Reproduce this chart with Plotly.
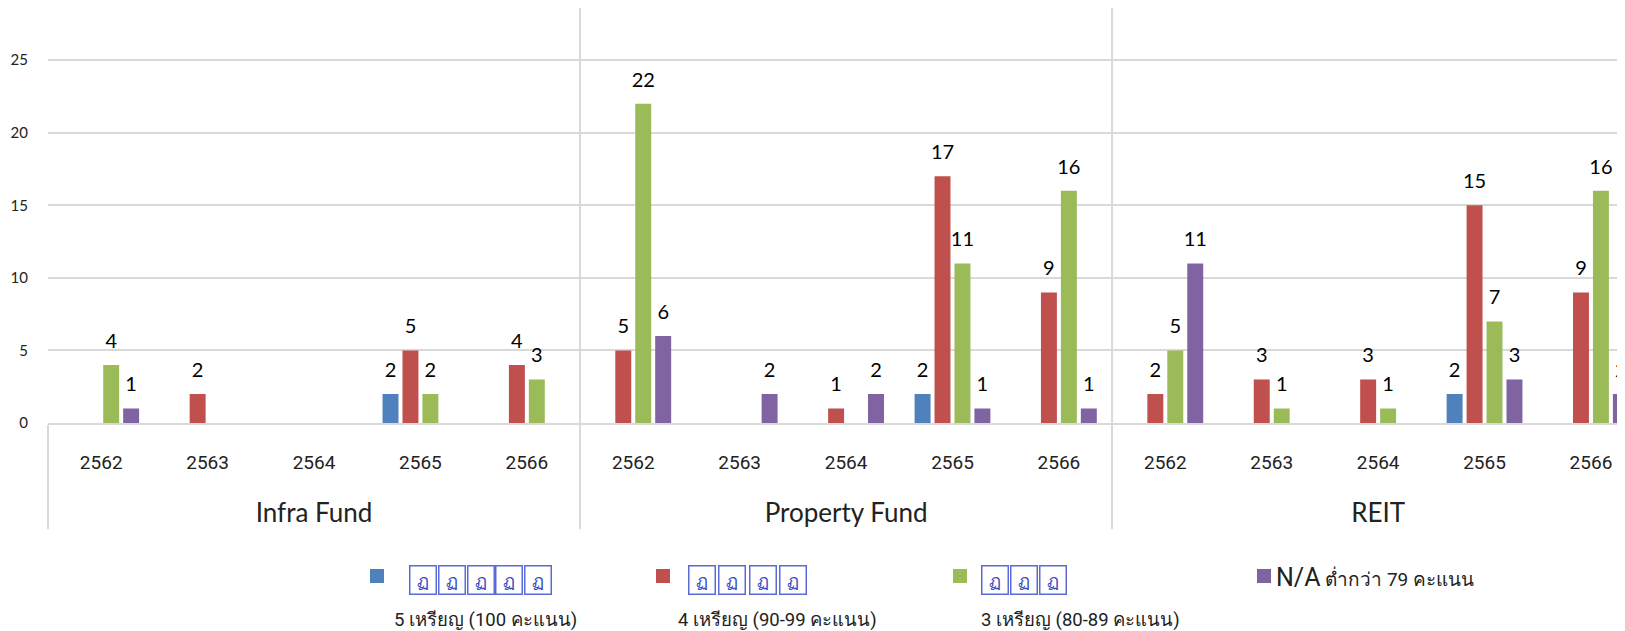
import plotly.graph_objects as go

groups = ["Infra Fund", "Property Fund", "REIT"]
years = ["2562", "2563", "2564", "2565", "2566"]

series_names = [
    "5 เหรียญ (100 คะแนน)",
    "4 เหรียญ (90-99 คะแนน)",
    "3 เหรียญ (80-89 คะแนน)",
    "N/A ต่ำกว่า 79 คะแนน",
]
medal_counts = [5, 4, 3]

five_medal = [None, None, None, 2, None,  None, None, None, 2, None,  None, None, None, 2, None]
four_medal = [None, 2, None, 5, 4,  5, None, 1, 17, 9,  2, 3, 3, 15, 9]
three_medal = [4, None, None, 2, 3,  22, None, None, 11, 16,  5, 1, 1, 7, 16]
na_below79 = [1, None, None, None, None,  6, 2, 2, 1, 1,  11, None, None, 3, 2]

colors = ["#4f81bd", "#c0504d", "#9bbb59", "#8064a2"]

grid = "#d9d9d9"
label_font = "Lato, Open Sans, sans-serif"
thai_font = "Roboto, Noto Sans, sans-serif"

# page offset of the figure (browser body margin) and plot area in page pixels
OFF = 8
L, T, B = 48, 8, 423
W = 1625 - L
def px_x(px):
    return (px - L) / W
def px_y(py):
    return (B - py) / (B - T)

group_lvl = []
year_lvl = []
for g in groups:
    for y in years:
        group_lvl.append(f"<br><br><span style='font-size:26px;font-family:Lato'>{g}</span>")
        year_lvl.append(y)

all_series = [five_medal, four_medal, three_medal, na_below79]

fig = go.Figure()
for vals, name, col in zip(all_series, series_names, colors):
    fig.add_trace(go.Bar(
        x=[group_lvl, year_lvl], y=vals, name=name,
        marker=dict(color=col, line=dict(width=0)),
        offsetgroup=name, showlegend=False,
    ))
# value labels, grouped like the bars, sitting a little above each bar
for vals, name in zip(all_series, series_names):
    fig.add_trace(go.Scatter(
        x=[group_lvl, year_lvl], y=vals, name=name,
        mode="markers+text", offsetgroup=name,
        marker=dict(size=18, opacity=0),
        text=[("" if v is None else str(v)) for v in vals],
        textposition="top center", cliponaxis=False,
        textfont=dict(size=20, color="black", family=label_font),
        showlegend=False, hoverinfo="skip",
    ))

shapes = []
for i in range(1, len(groups) + 1):
    xb = i * len(years) - 0.5
    shapes.append(dict(type="line", xref="x", yref="paper", x0=xb, x1=xb, y0=0, y1=1,
                       line=dict(color=grid, width=2), layer="below"))

# custom legend
annotations = []
sq_left = [370, 656, 953, 1257]
sq_y = 576
for k, col in enumerate(colors):
    shapes.append(dict(type="rect", xref="paper", yref="paper",
                       x0=px_x(sq_left[k]), x1=px_x(sq_left[k] + 14),
                       y0=px_y(sq_y + 7), y1=px_y(sq_y - 7),
                       fillcolor=col, line=dict(width=0)))

icon_starts = [409, 687, 981]
icon_step = [28.6, 30.2, 28.7]
for k, n in enumerate(medal_counts):
    for j in range(n):
        px = icon_starts[k] + icon_step[k] * (j + 0.5)
        annotations.append(dict(
            xref="paper", yref="paper", x=px_x(px), y=px_y(580),
            text="ฏ", showarrow=False,
            font=dict(size=18, color="#3b4cc0", family=thai_font),
            bordercolor="#5a6ad6", borderwidth=1.5, borderpad=1,
            width=23, height=25, xanchor="center", yanchor="middle",
        ))

text_left = [392, 676, 979]
for k in range(3):
    annotations.append(dict(
        xref="paper", yref="paper", x=px_x(text_left[k]), y=px_y(620),
        text=series_names[k], showarrow=False, xanchor="left", yanchor="middle",
        font=dict(size=18.5, color="#222", family=thai_font),
    ))
na_word, na_rest = series_names[3].split(" ", 1)
annotations.append(dict(
    xref="paper", yref="paper", x=px_x(1274), y=px_y(577),
    text=f"<span style='font-size:25px'>{na_word}</span> {na_rest}", showarrow=False,
    xanchor="left", yanchor="middle",
    font=dict(size=19, color="#222", family=thai_font),
))

fig.update_layout(
    width=1625 - OFF, height=631 - OFF,
    margin=dict(l=L - OFF, r=0, t=T - OFF, b=631 - B),
    plot_bgcolor="white", paper_bgcolor="white",
    barmode="group", bargap=0.25, bargroupgap=0.2,
    scattermode="group", scattergap=0.25,
    showlegend=False,
    xaxis=dict(
        type="multicategory", range=[-0.5, 14.32],
        showdividers=True, dividercolor=grid, dividerwidth=2,
        showgrid=False, showline=True, linecolor=grid, linewidth=2,
        ticks="", tickfont=dict(size=19, color="#222", family=thai_font),
        ticklabelstandoff=21,
    ),
    yaxis=dict(
        range=[0, 28.6], tickvals=[0, 5, 10, 15, 20, 25],
        showgrid=True, gridcolor=grid, gridwidth=2, zeroline=False,
        tickfont=dict(size=15, color="#222", family=label_font),
        ticklabelstandoff=19, showline=False,
    ),
    shapes=shapes, annotations=annotations,
)

fig.write_html("out.html")
